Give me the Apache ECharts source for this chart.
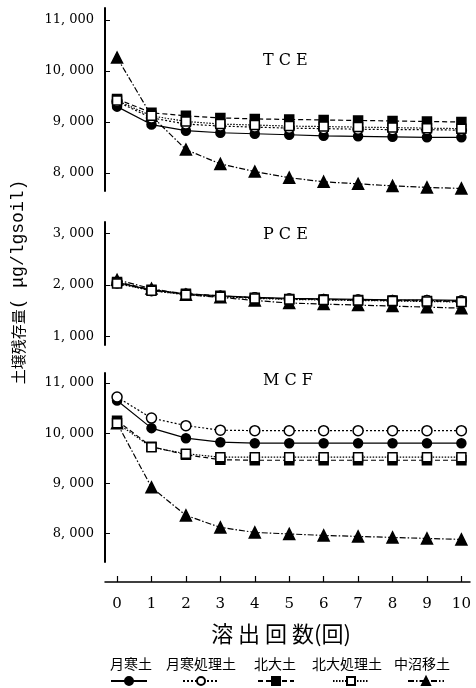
<!DOCTYPE html>
<html>
<head>
<meta charset="utf-8">
<script src="https://cdn.jsdelivr.net/npm/echarts@6/dist/echarts.min.js"></script>
<style>
  html, body { margin: 0; padding: 0; background: #fff; }
  #chart { width: 476px; height: 688px; }
</style>
</head>
<body>
<div id="chart"></div>
<script>
// 溶出回数
const rounds = [0, 1, 2, 3, 4, 5, 6, 7, 8, 9, 10]
const soilNames = ['月寒土', '月寒処理土', '北大土', '北大処理土', '中沼移土']
const panelNames = ['T C E', 'P C E', 'M C F']

// TCE
const tceTsukisamu = [9300, 8950, 8830, 8790, 8770, 8750, 8730, 8720, 8710, 8700, 8700]
const tceTsukisamuT = [9400, 9080, 8960, 8920, 8900, 8880, 8870, 8860, 8850, 8850, 8840]
const tceHokudai = [9450, 9180, 9120, 9080, 9060, 9050, 9040, 9030, 9020, 9010, 9000]
const tceHokudaiT = [9420, 9120, 9010, 8960, 8940, 8920, 8910, 8900, 8890, 8880, 8870]
const tceNakanuma = [10260, 9120, 8460, 8180, 8030, 7910, 7830, 7790, 7750, 7720, 7700]

// PCE
const pceTsukisamu = [2050, 1900, 1830, 1790, 1760, 1740, 1730, 1720, 1710, 1710, 1700]
const pceTsukisamuT = [2040, 1890, 1820, 1780, 1750, 1730, 1720, 1710, 1700, 1700, 1690]
const pceHokudai = [2060, 1910, 1830, 1790, 1750, 1730, 1720, 1710, 1700, 1690, 1680]
const pceHokudaiT = [2030, 1890, 1810, 1770, 1740, 1720, 1710, 1700, 1690, 1680, 1670]
const pceNakanuma = [2100, 1930, 1810, 1760, 1700, 1650, 1630, 1610, 1590, 1570, 1550]

// MCF
const mcfTsukisamu = [10650, 10100, 9900, 9820, 9800, 9800, 9800, 9800, 9800, 9800, 9800]
const mcfTsukisamuT = [10720, 10300, 10150, 10060, 10050, 10050, 10050, 10050, 10050, 10050, 10050]
const mcfHokudai = [10250, 9730, 9570, 9470, 9460, 9460, 9460, 9460, 9460, 9460, 9460]
const mcfHokudaiT = [10200, 9720, 9590, 9520, 9520, 9520, 9520, 9520, 9520, 9520, 9520]
const mcfNakanuma = [10200, 8920, 8360, 8120, 8020, 7990, 7960, 7940, 7920, 7900, 7880]

// 目盛
const tceTicks = [8000, 9000, 10000, 11000]
const pceTicks = [1000, 2000, 3000]
const mcfTicks = [8000, 9000, 10000, 11000]

const panelData = [
  [tceTsukisamu, tceTsukisamuT, tceHokudai, tceHokudaiT, tceNakanuma],
  [pceTsukisamu, pceTsukisamuT, pceHokudai, pceHokudaiT, pceNakanuma],
  [mcfTsukisamu, mcfTsukisamuT, mcfHokudai, mcfHokudaiT, mcfNakanuma]
]
const panelTicks = [tceTicks, pceTicks, mcfTicks]

const serif = 'DejaVu Serif'
const cjk = 'Noto Sans CJK JP'

/** 系列ごとの線種・記号 */
const styles = [
  { symbol: 'circle', size: 9, fill: '#000', line: 'solid' },
  { symbol: 'circle', size: 10, fill: '#fff', line: [2, 2] },
  { symbol: 'rect', size: 9, fill: '#000', line: [5, 3] },
  { symbol: 'rect', size: 9, fill: '#fff', line: [1.5, 1.5] },
  { symbol: 'triangle', size: 11, fill: '#000', line: [6, 2, 1.5, 2] }
]

// パネル配置（px）
const grids = [
  { left: 105, right: 6, top: 8, height: 183 },
  { left: 105, right: 6, top: 222, height: 123 },
  { left: 105, right: 6, top: 373, height: 189 }
]
const yRanges = [[7650, 11230], [835, 3223], [7430, 11200]]
const titleTops = [48, 222, 368]

const fmt = v => {
  const s = String(v)
  return s.length > 3 ? s.slice(0, -3) + ', ' + s.slice(-3) : s
}

const xAxes = grids.map((g, i) => ({
  gridIndex: i,
  type: 'value',
  min: -0.35,
  max: 10.25,
  show: i === 2,
  offset: 20,
  axisLine: { show: true, onZero: false, lineStyle: { color: '#000', width: 1.5 } },
  axisTick: { inside: true, length: 6, customValues: rounds, lineStyle: { color: '#000', width: 1.2 } },
  axisLabel: { customValues: rounds, fontFamily: serif, fontSize: 15, color: '#000', margin: 15 },
  splitLine: { show: false }
}))

const yAxes = grids.map((g, i) => ({
  gridIndex: i,
  type: 'value',
  min: yRanges[i][0],
  max: yRanges[i][1],
  axisLine: { show: true, onZero: false, lineStyle: { color: '#000', width: 2 } },
  axisTick: { inside: true, length: 5, customValues: panelTicks[i], lineStyle: { color: '#000' } },
  axisLabel: { customValues: panelTicks[i], formatter: fmt, fontFamily: serif, fontSize: 13, color: '#000', margin: 11 },
  splitLine: { show: false }
}))

const series = []
panelData.forEach((group, p) => {
  group.forEach((vals, k) => {
    const st = styles[k]
    series.push({
      name: soilNames[k],
      type: 'line',
      xAxisIndex: p,
      yAxisIndex: p,
      data: rounds.map((r, j) => [r, vals[j]]),
      symbol: st.symbol,
      symbolSize: st.size,
      showAllSymbol: true,
      lineStyle: { color: '#000', width: 1.2, type: st.line },
      itemStyle: { color: st.fill, borderColor: '#000', borderWidth: 1.5 },
      z: st.fill === '#fff' ? 3 : 2,
      animation: false
    })
  })
})

// 凡例：文字（上）と記号（下）
const textCenters = [130, 200, 274, 346, 421]
const iconCenters = [128, 200, 275, 350, 425]
const legends = []
soilNames.forEach((n, i) => {
  legends.push({
    data: [n], selectedMode: false, padding: 0,
    left: textCenters[i] - n.length * 7 - 5, top: 657,
    icon: 'rect', itemWidth: 0, itemHeight: 0,
    textStyle: { fontFamily: cjk, fontSize: 14, color: '#000' }
  })
  legends.push({
    data: [n], selectedMode: false, padding: 0,
    left: iconCenters[i] - 18, top: 676,
    itemWidth: 36, itemHeight: 10, formatter: () => '',
    textStyle: { fontSize: 1 }
  })
})

const chart = echarts.init(document.getElementById('chart'))
chart.setOption({
  backgroundColor: '#fff',
  animation: false,
  title: panelNames.map((t, i) => ({
    text: t, left: 258, top: titleTops[i],
    textStyle: { fontFamily: serif, fontSize: 16, fontWeight: 'normal', color: '#000' }
  })),
  grid: grids,
  xAxis: xAxes,
  yAxis: yAxes,
  legend: legends,
  graphic: [
    {
      type: 'text', x: 18, y: 282, rotation: Math.PI / 2,
      style: {
        text: '{a|土壌残存量}{b|( μg/lgsoil)}',
        align: 'center', verticalAlign: 'middle', fill: '#000',
        rich: {
          a: { fontFamily: cjk, fontSize: 15, fill: '#000' },
          b: { fontFamily: 'Liberation Mono', fontSize: 18, fill: '#000' }
        }
      }
    },
    {
      type: 'text', x: 281, y: 634,
      style: { text: '溶 出 回 数(回)', fontFamily: cjk, fontSize: 22, fill: '#000', align: 'center', verticalAlign: 'middle' }
    }
  ],
  series
})
</script>
</body>
</html>
